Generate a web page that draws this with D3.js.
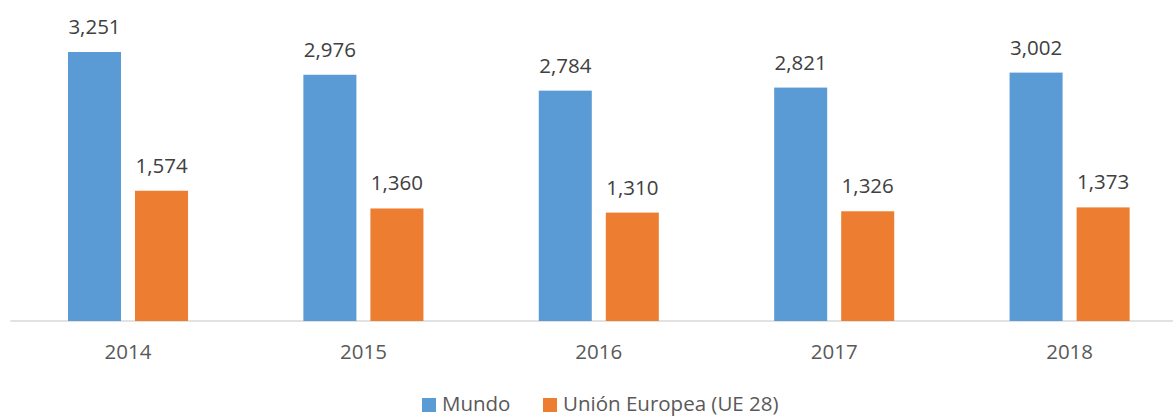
<!DOCTYPE html>
<html>
<head>
<meta charset="utf-8">
<script src="https://cdn.jsdelivr.net/npm/d3@7/dist/d3.min.js"></script>
<style>
  body { margin: 0; background: #fff; }
  text { font-family: "Open Sans", sans-serif; }
</style>
</head>
<body>
<svg id="chart" width="1173" height="416"></svg>
<script>
const years = ["2014", "2015", "2016", "2017", "2018"];
const seriesNames = ["Mundo", "Unión Europea (UE 28)"];
const mundo = [3251, 2976, 2784, 2821, 3002];
const ue28 = [1574, 1360, 1310, 1326, 1373];
const colors = ["#5B9BD5", "#ED7D31"];

const svg = d3.select("#chart");

// scales
const x0 = d3.scaleBand()
    .domain(years)
    .range([10.3, 1187.3])
    .paddingInner(0.49)
    .paddingOuter(0.245);

const x1 = d3.scaleBand()
    .domain(seriesNames)
    .range([0, x0.bandwidth()])
    .paddingInner(0.209);

const y = d3.scaleLinear()
    .domain([0, 3500])
    .range([321, 31.4]);

const data = years.map((yr, i) => ({
    year: yr,
    values: [mundo[i], ue28[i]]
}));

// x axis line
const xAxis = d3.axisBottom(x0).tickSize(0).tickPadding(0);
const gx = svg.append("g")
    .attr("transform", "translate(0,321)")
    .call(xAxis);
gx.select(".domain").attr("stroke", "#D9D9D9").attr("stroke-width", 1.3)
    .attr("d", "M10.3,0H1173");
gx.selectAll("text")
    .attr("y", 38)
    .attr("dy", null)
    .attr("fill", "#595959")
    .style("font-size", "20.5px")
    .style("font-family", "'Open Sans', sans-serif");

// bars
const groups = svg.selectAll(".grp")
    .data(data)
    .enter().append("g")
    .attr("class", "grp")
    .attr("transform", d => `translate(${x0(d.year)},0)`);

groups.selectAll("rect")
    .data(d => d.values.map((v, j) => ({ name: seriesNames[j], value: v, j: j })))
    .enter().append("rect")
    .attr("x", d => x1(d.name))
    .attr("width", x1.bandwidth())
    .attr("y", d => y(d.value))
    .attr("height", d => y(0) - y(d.value))
    .attr("fill", d => colors[d.j]);

// value labels
groups.selectAll(".lbl")
    .data(d => d.values.map((v, j) => ({ name: seriesNames[j], value: v })))
    .enter().append("text")
    .attr("class", "lbl")
    .attr("x", d => x1(d.name) + x1.bandwidth() / 2)
    .attr("y", d => y(d.value) - 18)
    .attr("text-anchor", "middle")
    .attr("fill", "#404040")
    .style("font-size", "20.5px")
    .text(d => d3.format(",")(d.value));

// legend
const legendPos = [422, 543];
const legend = svg.selectAll(".leg")
    .data(seriesNames)
    .enter().append("g")
    .attr("class", "leg")
    .attr("transform", (d, i) => `translate(${legendPos[i]},398)`);

legend.append("rect")
    .attr("width", 14)
    .attr("height", 14)
    .attr("fill", (d, i) => colors[i]);

legend.append("text")
    .attr("x", 20)
    .attr("y", 13)
    .attr("fill", "#595959")
    .style("font-size", "20.5px")
    .text(d => d);
</script>
</body>
</html>
